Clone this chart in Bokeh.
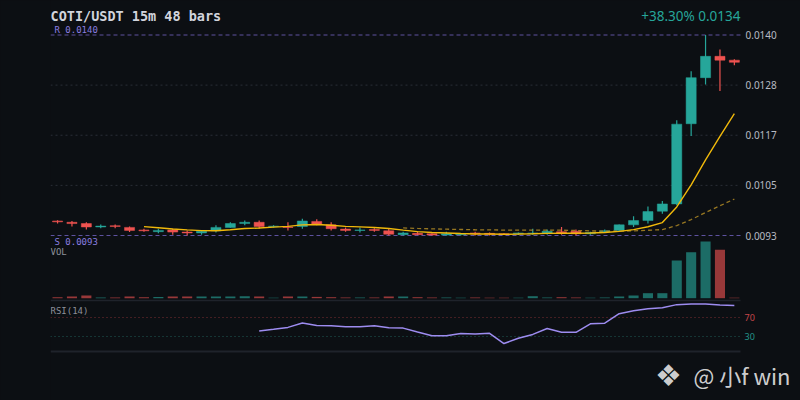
import numpy as np
import pandas as pd
from bokeh.plotting import figure
from bokeh.models import ColumnDataSource, Range1d, Label
from bokeh.embed import file_html
from bokeh.resources import INLINE
from bokeh.core.templates import get_env

# ---------------- data ----------------
title_text = "COTI/USDT 15m 48 bars"
change_text = "+38.30% 0.0134"
watermark_text = "@ 小f win"

opens = [0.00964, 0.00961, 0.00958, 0.00950, 0.00953, 0.00949, 0.00943, 0.00939, 0.00943, 0.00938,
         0.00936, 0.00941, 0.00949, 0.00958, 0.00961, 0.00951, 0.00950, 0.00951, 0.00963, 0.00955,
         0.00945, 0.00942, 0.00944, 0.00941, 0.00932, 0.00935, 0.00934, 0.00931, 0.00932, 0.00936,
         0.00935, 0.00934, 0.00934, 0.00934, 0.00935, 0.00939, 0.00940, 0.00934, 0.00939, 0.00942,
         0.00955, 0.00965, 0.00987, 0.01004, 0.01192, 0.01300, 0.01350, 0.01341]
highs = [0.00966, 0.00964, 0.00961, 0.00956, 0.00956, 0.00951, 0.00946, 0.00946, 0.00946, 0.00942,
         0.00943, 0.00954, 0.00961, 0.00965, 0.00965, 0.00954, 0.00961, 0.00969, 0.00968, 0.00961,
         0.00949, 0.00949, 0.00947, 0.00946, 0.00939, 0.00939, 0.00935, 0.00939, 0.00935, 0.00939,
         0.00937, 0.00936, 0.00937, 0.00946, 0.00944, 0.00950, 0.00944, 0.00939, 0.00944, 0.00956,
         0.00975, 0.00998, 0.01011, 0.01200, 0.01315, 0.01400, 0.01366, 0.01343]
lows = [0.00958, 0.00951, 0.00944, 0.00947, 0.00947, 0.00938, 0.00939, 0.00935, 0.00932, 0.00930,
        0.00932, 0.00937, 0.00948, 0.00954, 0.00946, 0.00949, 0.00942, 0.00946, 0.00954, 0.00942,
        0.00939, 0.00937, 0.00939, 0.00930, 0.00930, 0.00931, 0.00930, 0.00930, 0.00930, 0.00930,
        0.00930, 0.00931, 0.00931, 0.00932, 0.00932, 0.00932, 0.00930, 0.00932, 0.00937, 0.00941,
        0.00950, 0.00958, 0.00981, 0.01001, 0.01163, 0.01284, 0.01269, 0.01329]
closes = [0.00962, 0.00958, 0.00950, 0.00952, 0.00951, 0.00942, 0.00941, 0.00942, 0.00938, 0.00936,
          0.00940, 0.00949, 0.00958, 0.00961, 0.00951, 0.00952, 0.00949, 0.00964, 0.00956, 0.00946,
          0.00942, 0.00943, 0.00942, 0.00933, 0.00936, 0.00932, 0.00931, 0.00934, 0.00934, 0.00934,
          0.00933, 0.00932, 0.00936, 0.00936, 0.00940, 0.00935, 0.00934, 0.00937, 0.00941, 0.00955,
          0.00965, 0.00986, 0.01004, 0.01191, 0.01300, 0.01350, 0.01341, 0.01336]
volumes = [100, 170, 270, 60, 60, 170, 100, 130, 170, 170,
           170, 170, 170, 200, 170, 50, 170, 170, 130, 100,
           70, 70, 70, 170, 170, 100, 70, 70, 50, 70,
           50, 50, 50, 200, 70, 100, 70, 50, 70, 170,
           270, 500, 500, 3770, 4600, 5670, 4840, 50]

price_ticks = [0.0093, 0.010475, 0.01165, 0.012825, 0.0140]
price_tick_labels = ["0.0093", "0.0105", "0.0117", "0.0128", "0.0140"]
resistance = 0.0140
support = 0.0093
rsi_high, rsi_low = 70, 30
ma_fast, ma_slow, rsi_period = 7, 25, 14

# ---------------- derived indicators ----------------
n = len(closes)
idx = np.arange(n)
cl = pd.Series(closes)
ma7 = cl.rolling(ma_fast).mean()
ma25 = cl.rolling(ma_slow).mean()
d = cl.diff()
gain = d.clip(lower=0).rolling(rsi_period).mean()
loss = (-d.clip(upper=0)).rolling(rsi_period).mean()
rsi = 100 * gain / (gain + loss)

# ---------------- style / layout ----------------
BG = "#0c0f13"
UP = "#26a69a"
DOWN = "#ef5350"
colors = [UP if c >= o else DOWN for o, c in zip(opens, closes)]

BAR_PX = 14.4          # pixels per bar
X0 = -0.49             # x range start
PANEL_PX = 690         # width of the chart panel (before the price labels)
X_PANEL_END = X0 + PANEL_PX / BAR_PX
X_END = X0 + 750 / BAR_PX

src = ColumnDataSource(dict(
    x=idx, o=opens, h=highs, l=lows, c=closes, v=volumes, col=colors,
    top=np.maximum(opens, closes), bot=np.minimum(opens, closes),
))

p = figure(width=800, height=400,
           x_range=Range1d(X0, X_END),
           y_range=Range1d(0.0054322, 0.0148087),
           x_axis_location=None, y_axis_location=None,
           output_backend="svg", toolbar_location=None,
           min_border_left=50, min_border_right=0,
           min_border_top=0, min_border_bottom=0,
           background_fill_color=BG, border_fill_color=BG,
           outline_line_color=None)
p.grid.visible = False
p.extra_y_ranges = {
    "vol": Range1d(-10230, 29770),
    "rsi": Range1d(-104.74, 737.37),
}

def hlines(levels, color, dash="solid", width=1.0, alpha=1.0, y_range_name="default"):
    k = len(levels)
    p.segment(x0=[X0] * k, x1=[X_PANEL_END] * k, y0=levels, y1=levels,
              line_color=color, line_dash=dash, line_width=width, line_alpha=alpha,
              y_range_name=y_range_name)

# grid at price levels
hlines(price_ticks[1:-1], "#2a2e37", dash="2 3")
# support / resistance
hlines([resistance, support], "#5e52a0", dash="4 3", width=1.2)
# panel separators
hlines([105.8], "#1f232b", width=1.5, y_range_name="rsi")
hlines([-1.6], "#1f232b", width=2, y_range_name="rsi")
# RSI levels
hlines([rsi_high], "#7d2f33", dash="1 3", width=1.2, y_range_name="rsi")
hlines([rsi_low], "#1f5d57", dash="1 3", width=1.2, y_range_name="rsi")

# candles
p.segment(x0="x", x1="x", y0="l", y1="h", color="col", line_width=1.2, source=src)
p.vbar(x="x", width=0.7, top="top", bottom="bot", fill_color="col",
       line_color="col", line_width=0.5, source=src)

# moving averages
p.line(idx, ma25, line_color="#b08a24", line_dash="4 3", line_width=1.3, line_alpha=0.85)
p.line(idx, ma7, line_color="#f0b90b", line_width=1.4)

# volume
p.vbar(x="x", width=0.7, top="v", bottom=0, fill_color="col", fill_alpha=0.62,
       line_color=None, y_range_name="vol", source=src)

# RSI
p.line(idx, rsi, line_color="#9d8cf0", line_width=1.5, y_range_name="rsi")

# texts
def lab(text, x, y, size, color, font="DejaVu Sans Mono", align="left", style="normal",
        alpha=1.0, y_units="screen"):
    p.add_layout(Label(x=x, y=y, x_units="screen", y_units=y_units, text=text,
                       text_font=font, text_font_size=size, text_color=color,
                       text_align=align, text_baseline="middle",
                       text_font_style=style, text_alpha=alpha))

# price scale labels
for t, s in zip(price_ticks, price_tick_labels):
    lab(s, 695, t, "10px", "#b7bac2", font="Noto Sans", y_units="data")

lab(title_text, 0, 385, "13.5px", "#d1d4dc", style="bold")
lab(change_text, 690, 385, "13.5px", UP, font="Noto Sans", align="right")
lab("R " + price_tick_labels[-1], 4, 371, "9px", "#8a7ee0")
lab("S " + price_tick_labels[0], 4, 159, "9px", "#8a7ee0")
lab("VOL", 0, 149, "9px", "#8c9099")
lab("RSI(14)", 0, 90, "9px", "#8c9099")
lab(str(rsi_high), 694, 83, "9px", "#c5464a", font="Noto Sans")
lab(str(rsi_low), 694, 64, "9px", "#23948a", font="Noto Sans")
lab("❖", 618, 25, "30px", "#e8e8e8", font="DejaVu Sans", align="center", alpha=0.9)
lab(watermark_text, 740, 26, "22px", "#e8e8e8", font="Noto Sans CJK SC", align="right", alpha=0.9)

TEMPLATE = get_env().from_string(
    '{% extends "file.html" %}'
    '{% block preamble %}<style>html,body{margin:0 !important;padding:0 !important;background:#0c0f13;overflow:hidden;}</style>{% endblock %}'
    '{% block postamble %}<style>html,body{margin:0 !important;padding:0 !important;background:#0c0f13;overflow:hidden;}</style>{% endblock %}'
)

open("out.html", "w").write(file_html(p, INLINE, template=TEMPLATE))
